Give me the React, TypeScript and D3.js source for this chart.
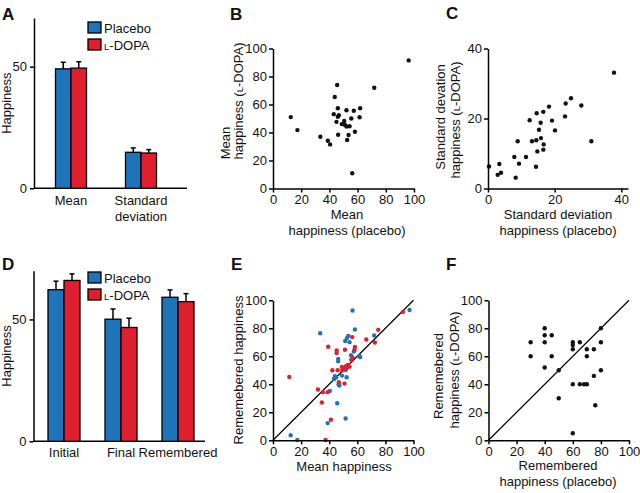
import React, { useRef, useEffect } from "react";
import * as d3 from "d3";

// ---- data ----
// A: summary of happiness ratings
const groupsA = ["Mean", "Standard deviation"];
const placeboA = [49.1, 14.8];
const placeboErrA = [2.7, 1.8];
const ldopaA = [49.4, 14.5];
const ldopaErrA = [2.6, 1.4];

// D: initial / final / remembered happiness
const groupsD = ["Initial", "Final", "Remembered"];
const placeboD = [62.2, 50.1, 59.1];
const placeboErrD = [3.5, 4.2, 3.0];
const ldopaD = [66.0, 46.7, 57.3];
const ldopaErrD = [2.7, 3.8, 3.3];

// B: mean happiness, placebo (x) vs L-DOPA (y)
const meanHappiness = [
  [96.2, 91.5], [71.8, 72.0], [45.5, 73.9], [43.8, 65.4], [12.6, 51.0],
  [17.3, 41.7], [33.6, 37.0], [38.9, 34.1], [40.5, 31.5], [46.0, 57.3],
  [52.1, 55.9], [57.3, 55.5], [61.8, 57.3], [43.1, 53.1], [46.7, 52.4],
  [46.0, 51.2], [55.5, 50.0], [61.4, 50.9], [45.0, 47.6], [50.5, 48.3],
  [48.8, 46.0], [50.9, 45.5], [52.1, 44.3], [54.3, 44.5], [58.1, 40.5],
  [46.2, 38.4], [53.6, 38.2], [52.6, 34.6], [56.2, 10.9],
];

// C: SD of happiness, placebo (x) vs L-DOPA (y)
const sdHappiness = [
  [37.8, 33.1], [24.9, 25.8], [23.3, 24.3], [28.0, 23.7], [18.3, 23.4],
  [16.6, 21.9], [14.6, 21.5], [12.5, 19.5], [15.8, 18.8], [19.2, 19.4],
  [23.1, 20.6], [20.1, 16.6], [15.3, 16.8], [15.9, 14.4], [13.2, 13.5],
  [14.5, 13.8], [8.9, 13.5], [16.7, 12.6], [14.8, 10.6], [16.6, 11.1],
  [11.4, 9.0], [7.9, 9.0], [9.3, 7.1], [3.4, 7.0], [0.3, 6.3],
  [2.9, 3.9], [3.9, 4.5], [8.3, 3.1], [14.4, 6.2], [31.0, 13.5],
];

// E: mean happiness (x) vs remembered happiness (y)
const rememberedPlacebo = [
  [97.2, 93.1], [56.6, 92.7], [33.6, 76.5], [58.3, 79.1], [53.6, 74.6],
  [52.6, 73.0], [51.4, 70.9], [54.5, 70.1], [72.0, 74.9], [55.5, 60.7],
  [57.6, 63.5], [61.5, 60.2], [62.0, 59.4], [46.4, 58.1], [46.4, 56.4],
  [52.4, 51.2], [51.7, 50.2], [44.1, 45.7], [45.0, 44.8], [43.4, 43.8],
  [49.1, 46.2], [52.4, 45.0], [46.7, 39.8], [47.2, 39.1], [40.5, 35.3],
  [45.7, 26.5], [51.7, 15.6], [38.9, 12.3], [12.6, 3.6], [17.3, 0.2],
];
const rememberedLdopa = [
  [92.4, 91.7], [74.9, 78.9], [72.5, 69.9], [66.4, 72.0], [56.4, 73.7],
  [39.3, 66.8], [45.3, 64.2], [45.3, 62.3], [51.2, 64.7], [58.3, 66.6],
  [58.0, 64.7], [55.7, 57.6], [56.6, 59.0], [49.1, 52.4], [42.2, 50.0],
  [46.0, 50.0], [49.3, 50.0], [53.3, 53.8], [52.1, 53.1], [54.5, 52.6],
  [52.8, 52.4], [51.2, 52.0], [46.9, 41.5], [50.9, 40.5], [32.0, 36.3],
  [35.5, 34.4], [38.9, 34.4], [34.8, 27.0], [41.2, 14.7], [11.6, 45.3],
  [37.4, 0.2],
];

// F: remembered happiness, placebo (x) vs L-DOPA (y)
const rememberedPairs = [
  [30, 70], [30, 60], [40, 80], [40, 75], [40, 70], [45, 75], [45, 60],
  [40, 52], [50, 50], [50, 30], [60, 70], [60, 68], [60, 65], [65, 70],
  [70, 65], [75, 65], [70, 60], [80, 80], [80, 70], [80, 50], [75, 46],
  [60, 40], [65, 40], [68, 40], [70, 40], [76, 25], [60, 5],
];

const ticks100 = [0, 20, 40, 60, 80, 100];
const ticks40 = [0, 20, 40];
const ticksBar = [0, 50];

const FONT = "'Liberation Sans', Arial, Helvetica, sans-serif";
const BLUE = "#1f74b9";
const RED = "#e01f2e";

// text with optional small-caps "L"
const ldopaParts = (pre) => [[pre, false], ["L", true], ["-DOPA)", false]];

const addText = (g, x, y, parts, opts: any = {}) => {
  const t = g
    .append("text")
    .attr("x", x)
    .attr("y", y)
    .attr("font-family", FONT)
    .attr("font-size", opts.size || 13)
    .attr("font-weight", opts.bold ? "bold" : "normal")
    .attr("text-anchor", opts.anchor || "middle")
    .attr("fill", "#111");
  if (opts.rotate) t.attr("transform", `rotate(-90,${x},${y})`);
  if (typeof parts === "string") t.text(parts);
  else
    parts.forEach(([s, small]) =>
      t.append("tspan").attr("font-size", small ? 9.5 : opts.size || 13).text(s)
    );
  return t;
};

const styleAxis = (a) => {
  a.attr("font-family", FONT).attr("font-size", 13);
  a.selectAll("path, line").attr("stroke", "#000").attr("stroke-width", 1.5);
  a.selectAll("text").attr("fill", "#111");
};

const drawBars = (svg, cfg) => {
  const g = svg.append("g");
  const y = d3.scaleLinear().domain([0, 70]).range([cfg.y0, cfg.y1]);
  const x = d3.scalePoint().domain(cfg.groups).range(cfg.xr);
  const bw = cfg.bw;

  const ya = g
    .append("g")
    .attr("transform", `translate(${cfg.x0},0)`)
    .call(d3.axisLeft(y).tickValues(ticksBar).tickSize(4).tickSizeOuter(0).tickPadding(3));
  styleAxis(ya);

  g.append("line")
    .attr("x1", cfg.x0)
    .attr("x2", cfg.x1)
    .attr("y1", y(0))
    .attr("y2", y(0))
    .attr("stroke", "#000")
    .attr("stroke-width", 1.5);

  const series = [
    { vals: cfg.placebo, errs: cfg.placeboErr, color: BLUE, off: -bw },
    { vals: cfg.ldopa, errs: cfg.ldopaErr, color: RED, off: 0 },
  ];
  series.forEach((s) => {
    cfg.groups.forEach((grp, i) => {
      const bx = x(grp) + s.off;
      const top = y(s.vals[i]);
      const et = y(s.vals[i] + s.errs[i]);
      g.append("line")
        .attr("x1", bx + bw / 2)
        .attr("x2", bx + bw / 2)
        .attr("y1", top)
        .attr("y2", et)
        .attr("stroke", "#000")
        .attr("stroke-width", 1.5);
      g.append("line")
        .attr("x1", bx + bw / 2 - 2.5)
        .attr("x2", bx + bw / 2 + 2.5)
        .attr("y1", et)
        .attr("y2", et)
        .attr("stroke", "#000")
        .attr("stroke-width", 1.5);
      g.append("rect")
        .attr("x", bx)
        .attr("y", top)
        .attr("width", bw)
        .attr("height", y(0) - top)
        .attr("fill", s.color)
        .attr("stroke", "#000")
        .attr("stroke-width", 1.3);
    });
  });

  cfg.groups.forEach((grp) => {
    const lines = grp === "Standard deviation" ? ["Standard", "deviation"] : [grp];
    lines.forEach((l, k) => addText(g, x(grp), cfg.labelY + k * 16, l));
  });

  // legend
  [
    [BLUE, "Placebo"],
    [RED, null],
  ].forEach(([c, label], k) => {
    const ly = cfg.legY + k * 17;
    g.append("rect")
      .attr("x", 88)
      .attr("y", ly)
      .attr("width", 13)
      .attr("height", 11)
      .attr("fill", c)
      .attr("stroke", "#000")
      .attr("stroke-width", 1.3);
    if (label) addText(g, 104, ly + 11, label, { anchor: "start" });
    else addText(g, 104, ly + 11, [["L", true], ["-DOPA", false]], { anchor: "start" });
  });

  addText(g, 11, (cfg.y0 + cfg.y1) / 2, "Happiness", { rotate: true });
};

const drawScatter = (svg, cfg) => {
  const g = svg.append("g");
  const x = d3.scaleLinear().domain(cfg.xd).range(cfg.xr);
  const y = d3.scaleLinear().domain(cfg.yd).range(cfg.yr);

  if (cfg.diagonal) {
    g.append("line")
      .attr("x1", x(0))
      .attr("y1", y(0))
      .attr("x2", x(100))
      .attr("y2", y(100))
      .attr("stroke", "#000")
      .attr("stroke-width", 1.2);
  }

  cfg.sets.forEach(({ pts, color }) => {
    g.selectAll(null)
      .data(pts)
      .enter()
      .append("circle")
      .attr("cx", (d) => x(d[0]))
      .attr("cy", (d) => y(d[1]))
      .attr("r", 2.2)
      .attr("fill", color);
  });

  const xa = g
    .append("g")
    .attr("transform", `translate(0,${cfg.yr[0]})`)
    .call(d3.axisBottom(x).tickValues(cfg.xt).tickSize(4).tickSizeOuter(0).tickPadding(2));
  styleAxis(xa);
  const ya = g
    .append("g")
    .attr("transform", `translate(${cfg.xr[0]},0)`)
    .call(d3.axisLeft(y).tickValues(cfg.yt).tickSize(4).tickSizeOuter(0).tickPadding(2));
  styleAxis(ya);

  const xc = cfg.xLabelX;
  cfg.xLabel.forEach((l, k) => addText(g, xc, cfg.xLabelY + k * 16, l));
  cfg.yLabel.forEach((l, k) =>
    addText(g, cfg.yLabelX[k], cfg.yLabelY[k], l, { rotate: true })
  );
};

const App = () => {
  const ref = useRef(null);

  useEffect(() => {
    const svg = d3.select(ref.current);
    svg.selectAll("*").remove();

    drawBars(svg, {
      groups: groupsA,
      placebo: placeboA,
      placeboErr: placeboErrA,
      ldopa: ldopaA,
      ldopaErr: ldopaErrA,
      y0: 188.3,
      y1: 18,
      x0: 34,
      x1: 187,
      xr: [71, 141],
      bw: 15.5,
      labelY: 205,
      legY: 22,
    });

    drawBars(svg, {
      groups: groupsD,
      placebo: placeboD,
      placeboErr: placeboErrD,
      ldopa: ldopaD,
      ldopaErr: ldopaErrD,
      y0: 441.3,
      y1: 270.7,
      x0: 33.5,
      x1: 205,
      xr: [64, 178],
      bw: 16,
      labelY: 457,
      legY: 272,
    });

    drawScatter(svg, {
      xd: [0, 100],
      yd: [0, 100],
      xr: [273, 414],
      yr: [188.5, 48.5],
      xt: ticks100,
      yt: ticks100,
      sets: [{ pts: meanHappiness, color: "#111" }],
      xLabel: ["Mean", "happiness (placebo)"],
      xLabelX: 347,
      xLabelY: 219,
      yLabel: ["Mean", ldopaParts("happiness (")],
      yLabelX: [230, 243],
      yLabelY: [143, 101],
    });

    drawScatter(svg, {
      xd: [0, 42],
      yd: [0, 40],
      xr: [488, 628],
      yr: [188.5, 48.5],
      xt: ticks40,
      yt: ticks40,
      sets: [{ pts: sdHappiness, color: "#111" }],
      xLabel: ["Standard deviation", "happiness (placebo)"],
      xLabelX: 558,
      xLabelY: 219,
      yLabel: ["Standard devation", ldopaParts("happiness (")],
      yLabelX: [445, 460],
      yLabelY: [117, 120],
    });

    drawScatter(svg, {
      xd: [0, 100],
      yd: [0, 100],
      xr: [273, 413.5],
      yr: [440.3, 300.3],
      xt: ticks100,
      yt: ticks100,
      diagonal: true,
      sets: [
        { pts: rememberedPlacebo, color: BLUE },
        { pts: rememberedLdopa, color: RED },
      ],
      xLabel: ["Mean happiness"],
      xLabelX: 344,
      xLabelY: 471,
      yLabel: ["Rememebered happiness"],
      yLabelX: [243],
      yLabelY: [370],
    });

    drawScatter(svg, {
      xd: [0, 100],
      yd: [0, 100],
      xr: [488.5, 629],
      yr: [440.3, 300.3],
      xt: ticks100,
      yt: ticks100,
      diagonal: true,
      sets: [{ pts: rememberedPairs, color: "#111" }],
      xLabel: ["Remembered", "happiness (placebo)"],
      xLabelX: 558,
      xLabelY: 470,
      yLabel: ["Rememebered", ldopaParts("happiness (")],
      yLabelX: [443, 459],
      yLabelY: [376, 370],
    });

    // panel letters
    [
      ["A", 2, 20],
      ["B", 230, 20],
      ["C", 446, 19],
      ["D", 2, 270],
      ["E", 231, 270],
      ["F", 446, 270],
    ].forEach(([s, x, y]) =>
      addText(svg, x, y, s, { anchor: "start", bold: true, size: 17 })
    );
  }, []);

  return (
    <svg
      ref={ref}
      width={640}
      height={493}
      style={{ position: "absolute", left: 0, top: 0, background: "#fff" }}
    ></svg>
  );
};

export default App;
